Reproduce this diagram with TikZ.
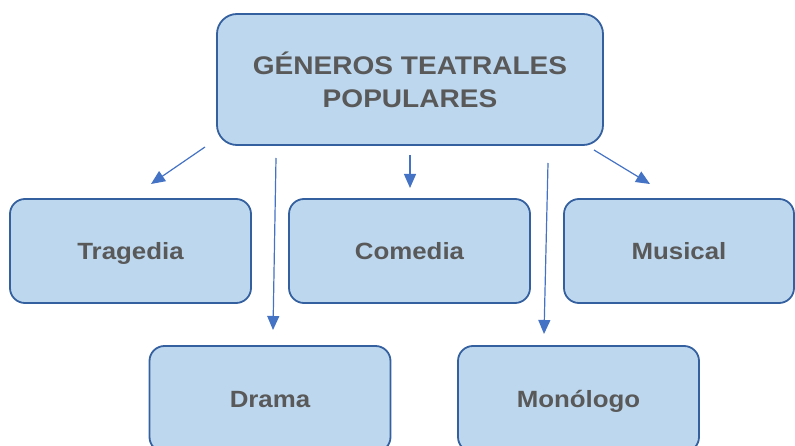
\documentclass[tikz,border=0pt]{standalone}
\usepackage{fontspec}
\setmainfont{Liberation Sans}[FakeStretch=1.1]
\usetikzlibrary{arrows.meta}
\definecolor{boxfill}{HTML}{BDD7EE}
\definecolor{boxline}{HTML}{34609F}
\definecolor{arrowblue}{HTML}{4472C4}
\definecolor{textgray}{HTML}{595959}
\begin{document}
\begin{tikzpicture}[
        x=1pt, y=-1pt,
        box/.style={rectangle, draw=boxline, line width=1.8pt, fill=boxfill, minimum width=241pt, minimum height=104pt, rounded corners=15pt, text=textgray, font=\fontsize{23.5}{28}\selectfont\bfseries, align=center, text depth=0pt},
        arrow/.style={-{Triangle[length=14pt,width=12pt]}, arrowblue, line width=1.2pt}
    ]
        \useasboundingbox (0,0) rectangle (795,446);

        % Title
        \node[box, minimum width=386pt, minimum height=131pt, rounded corners=20pt, font=\fontsize{25.5}{33}\selectfont\bfseries] (genres) at (410,79.5) {GÉNEROS TEATRALES\\POPULARES};

        % Genres
        \node[box] (tragedy) at (130.5,251) {Tragedia};
        \node[box] (comedy) at (409.5,251) {Comedia};
        \node[box, minimum width=230pt] (musical) at (679,251) {Musical};
        \node[box, minimum height=106pt] (drama) at (270,399) {Drama};
        \node[box, minimum height=106pt] (monologue) at (578.5,399) {Monólogo};

        % Arrow ends
        \coordinate (tragedyfrom) at (205,147);
        \coordinate (tragedyto) at (151,184);
        \coordinate (dramafrom) at (276,158);
        \coordinate (dramato) at (273,330);
        \coordinate (comedyfrom) at (410,155);
        \coordinate (comedyto) at (410,188);
        \coordinate (monologuefrom) at (548,163);
        \coordinate (monologueto) at (544,334);
        \coordinate (musicalfrom) at (594,150);
        \coordinate (musicalto) at (650,184);

        % Arrows
        \draw[arrow] (tragedyfrom) -- (tragedyto);
        \draw[arrow] (dramafrom) -- (dramato);
        \draw[arrow] (comedyfrom) -- (comedyto);
        \draw[arrow] (monologuefrom) -- (monologueto);
        \draw[arrow] (musicalfrom) -- (musicalto);

    \end{tikzpicture}
\end{document}
